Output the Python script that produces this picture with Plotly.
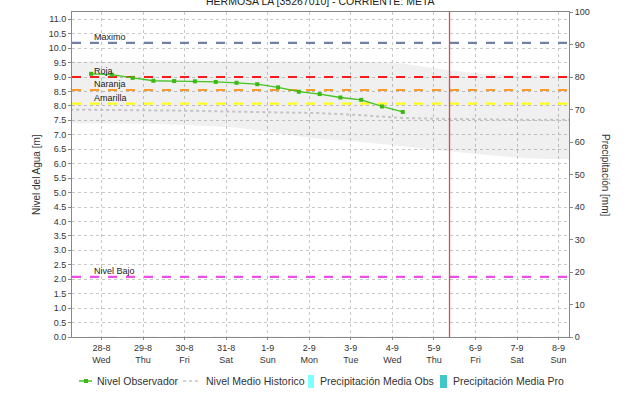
import plotly.graph_objects as go

# fechas del eje x (00:00 de cada dia) y etiquetas
tick_dates = ["2024-08-28", "2024-08-29", "2024-08-30", "2024-08-31", "2024-09-01", "2024-09-02",
              "2024-09-03", "2024-09-04", "2024-09-05", "2024-09-06", "2024-09-07", "2024-09-08"]
tick_labels = ["28-8<br>Wed", "29-8<br>Thu", "30-8<br>Fri", "31-8<br>Sat", "1-9<br>Sun", "2-9<br>Mon",
               "3-9<br>Tue", "4-9<br>Wed", "5-9<br>Thu", "6-9<br>Fri", "7-9<br>Sat", "8-9<br>Sun"]

# nivel observado (06:00 y 18:00)
obs_times = ["2024-08-27 18:00", "2024-08-28 06:00", "2024-08-28 18:00", "2024-08-29 06:00",
             "2024-08-29 18:00", "2024-08-30 06:00", "2024-08-30 18:00", "2024-08-31 06:00",
             "2024-08-31 18:00", "2024-09-01 06:00", "2024-09-01 18:00", "2024-09-02 06:00",
             "2024-09-02 18:00", "2024-09-03 06:00", "2024-09-03 18:00", "2024-09-04 06:00"]
obs_level = [9.11, 9.08, 8.97, 8.87, 8.86, 8.85, 8.83, 8.80,
             8.75, 8.64, 8.49, 8.41, 8.29, 8.21, 7.98, 7.79]

# historico: banda min-max y nivel medio
hist_times = ["2024-08-27 06:00", "2024-08-28 06:00", "2024-08-29 06:00", "2024-08-30 06:00",
              "2024-08-31 06:00", "2024-09-01 06:00", "2024-09-02 06:00", "2024-09-03 06:00",
              "2024-09-04 06:00", "2024-09-05 06:00", "2024-09-06 06:00", "2024-09-07 06:00",
              "2024-09-08 06:00"]
hist_min = [7.40, 7.40, 7.38, 7.32, 7.25, 7.05, 6.85, 6.75, 6.60, 6.45, 6.30, 6.18, 6.15]
hist_max = [9.54, 9.54, 9.54, 9.54, 9.54, 9.54, 9.54, 9.54, 9.47, 9.25, 9.10, 9.07, 9.05]
hist_mean = [7.87, 7.86, 7.85, 7.83, 7.80, 7.78, 7.75, 7.68, 7.58, 7.55, 7.53, 7.52, 7.52]

# precipitacion (sin lluvia registrada)
precip_obs = [0, 0, 0, 0, 0, 0, 0, 0, 0, 0, 0, 0]
precip_pro = [0, 0, 0, 0, 0, 0, 0, 0, 0, 0, 0, 0]

# umbrales
level_names = ["Maximo", "Roja", "Naranja", "Amarilla", "Nivel Bajo"]
level_values = [10.18, 9.0, 8.55, 8.08, 2.08]
level_colors = ["#7280a6", "#ff1a1a", "#ff9a2a", "#ffff1a", "#ee4ee8"]

x_start, x_end = "2024-08-27 07:00", "2024-09-08 06:00"
now_time = "2024-09-05 09:00"

FONT = "Liberation Sans, Arial, sans-serif"
W, H = 628, 404
ML, MR, MT, MB = 72, 59, 12, 67
PW, PH = W - ML - MR, H - MT - MB


def px(x):  # pixel -> paper x
    return (x - ML) / PW


def py(y):  # pixel -> paper y
    return (H - MB - y) / PH


fig = go.Figure()

# banda historica
fig.add_trace(go.Scatter(x=hist_times, y=hist_max, mode="lines", line=dict(width=0),
                         showlegend=False, hoverinfo="skip"))
fig.add_trace(go.Scatter(x=hist_times, y=hist_min, mode="lines", line=dict(width=0),
                         fill="tonexty", fillcolor="rgba(0,0,0,0.06)",
                         showlegend=False, hoverinfo="skip"))

fig.add_trace(go.Scatter(x=hist_times, y=hist_mean, mode="lines", name="Nivel Medio Historico",
                         line=dict(color="#c4c4c4", width=2, dash="dot"), showlegend=False))

for name, val, col in zip(level_names, level_values, level_colors):
    fig.add_trace(go.Scatter(x=[x_start, x_end], y=[val, val], mode="lines",
                             line=dict(color=col, width=2.2, dash="dash"),
                             showlegend=False, hoverinfo="skip"))
    fig.add_annotation(x=px(92), xref="paper", y=val, yref="y", text=name, showarrow=False,
                       xanchor="left", yanchor="bottom", yshift=-1,
                       font=dict(size=9, color="#222222"))

fig.add_trace(go.Bar(x=tick_dates, y=precip_obs, yaxis="y2", name="Precipitación Media Obs",
                     marker_color="#80ffff", showlegend=False))
fig.add_trace(go.Bar(x=tick_dates, y=precip_pro, yaxis="y2", name="Precipitación Media Pro",
                     marker_color="#40c8c8", showlegend=False))

fig.add_trace(go.Scatter(x=obs_times, y=obs_level, mode="lines+markers", name="Nivel Observador",
                         line=dict(color="#44c41c", width=1.3),
                         marker=dict(symbol="square", size=4, color="#3cb814"), showlegend=False))

fig.add_vline(x=now_time, line=dict(color="#e04848", width=1.3))

# leyenda dibujada a mano (fila inferior)
ly = py(381)
legend_items = [
    ("line", "#44c41c", "Nivel Observador", 79, 92, 95),
    ("dot", "#c4c4c4", "Nivel Medio Historico", 183, 199, 204),
    ("box", "#80ffff", "Precipitación Media Obs", 308, 314, 318),
    ("box", "#40c8c8", "Precipitación Media Pro", 440, 447, 451),
]
for kind, col, label, x0, x1, xt in legend_items:
    if kind == "line":
        fig.add_shape(type="line", xref="paper", yref="paper", x0=px(x0), x1=px(x1), y0=ly, y1=ly,
                      line=dict(color=col, width=1.5))
        fig.add_shape(type="rect", xref="paper", yref="paper", x0=px(84), x1=px(88),
                      y0=py(383), y1=py(379), line=dict(width=0), fillcolor="#3cb814")
    elif kind == "dot":
        fig.add_shape(type="line", xref="paper", yref="paper", x0=px(x0), x1=px(x1), y0=ly, y1=ly,
                      line=dict(color=col, width=1.5, dash="dot"))
    else:
        fig.add_shape(type="rect", xref="paper", yref="paper", x0=px(x0), x1=px(x1),
                      y0=py(388), y1=py(375), line=dict(width=0), fillcolor=col)
    fig.add_annotation(x=px(xt), xref="paper", y=ly, yref="paper", text=label, showarrow=False,
                       xanchor="left", yanchor="middle", font=dict(size=10.5, color="#333333"))

grid = dict(showgrid=True, gridcolor="#c8c8c8", griddash="dot", gridwidth=1)

fig.update_layout(
    width=W, height=H,
    margin=dict(l=ML, r=MR, t=MT, b=MB, autoexpand=False),
    paper_bgcolor="white", plot_bgcolor="white",
    font=dict(family=FONT, size=9, color="#333333"),
    showlegend=False,
    bargap=0.3,
    xaxis=dict(type="date", range=[x_start, x_end], tickvals=tick_dates, ticktext=tick_labels,
               tickfont=dict(size=9, color="#333333"), ticks="outside", ticklen=2,
               tickcolor="#888888", showline=True, linecolor="#888888", mirror=True,
               zeroline=False, **grid),
    yaxis=dict(range=[0, 11.25], dtick=0.5, tick0=0, tickformat=".1f",
               tickfont=dict(size=9, color="#333333"), ticks="outside", ticklen=3,
               tickcolor="#888888", showline=True, linecolor="#888888", mirror=True,
               zeroline=False, **grid),
    yaxis2=dict(range=[0, 100], dtick=10, overlaying="y", side="right", showgrid=False,
                tickfont=dict(size=9, color="#333333"), ticks="outside", ticklen=3,
                tickcolor="#888888", showline=True, linecolor="#888888", zeroline=False),
)

# titulo (recortado en el borde superior, como en el original)
fig.add_annotation(x=0.5, xref="paper", y=1, yref="paper", yanchor="bottom", yshift=3,
                   text="HERMOSA LA [35267010] - CORRIENTE: META", showarrow=False,
                   font=dict(size=10.5, color="#222222"))

fig.add_annotation(x=px(29), xref="paper", y=0.5, yref="paper", text="Nivel del Agua [m]",
                   textangle=-90, showarrow=False, font=dict(size=10, color="#333333"))
fig.add_annotation(x=px(613), xref="paper", y=0.5, yref="paper", text="Precipitación [mm]",
                   textangle=90, showarrow=False, font=dict(size=10, color="#333333"))

# quitar el margen por defecto del <body> para que la figura empiece en (0, 0)
fig.write_html("out.html", config={"displayModeBar": False},
               post_script="document.body.style.margin='0';")
